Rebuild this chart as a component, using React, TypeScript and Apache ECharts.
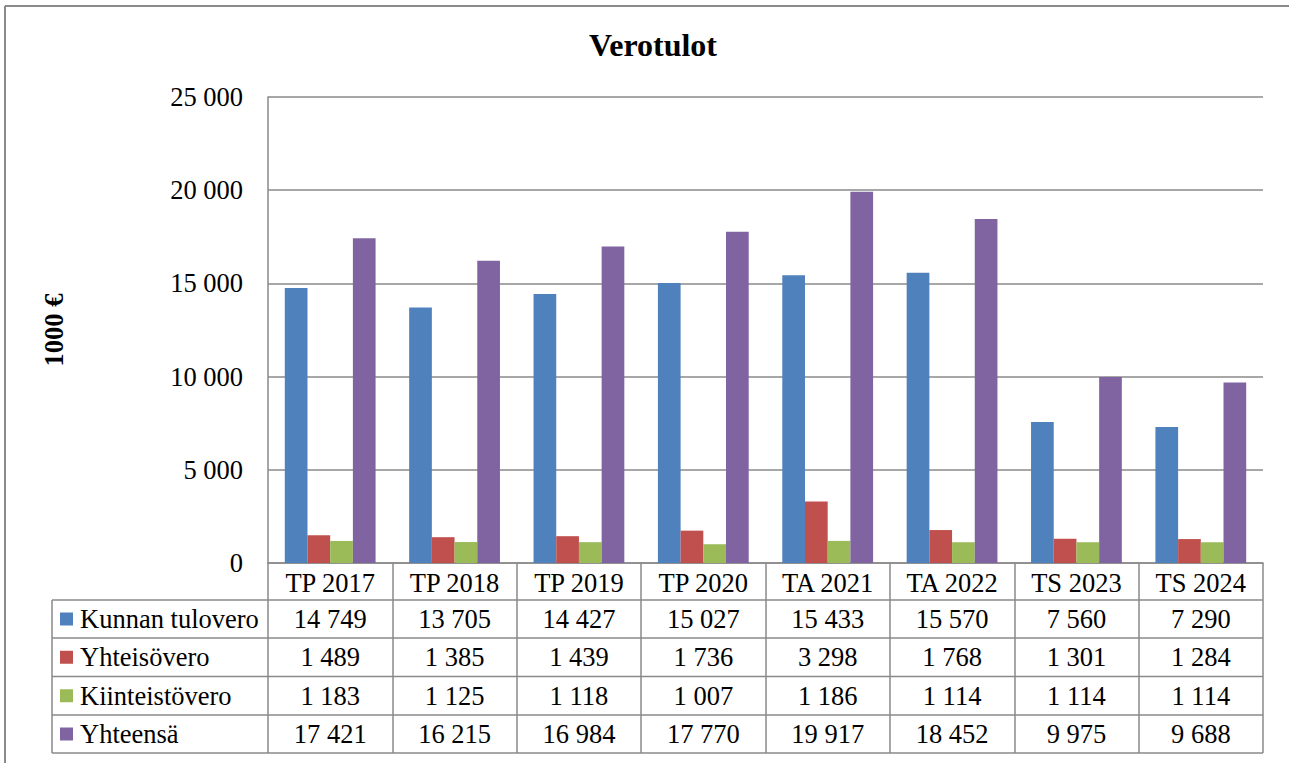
import React, { useEffect, useRef } from "react";
import * as echarts from "echarts";

const categories = ["TP 2017", "TP 2018", "TP 2019", "TP 2020", "TA 2021", "TA 2022", "TS 2023", "TS 2024"];
const seriesNames = ["Kunnan tulovero", "Yhteisövero", "Kiinteistövero", "Yhteensä"];
const kunnanTulovero = [14749, 13705, 14427, 15027, 15433, 15570, 7560, 7290];
const yhteisovero = [1489, 1385, 1439, 1736, 3298, 1768, 1301, 1284];
const kiinteistovero = [1183, 1125, 1118, 1007, 1186, 1114, 1114, 1114];
const yhteensa = [17421, 16215, 16984, 17770, 19917, 18452, 9975, 9688];
const yTicks = { min: 0, max: 25000, interval: 5000 };
const colors = ["#4F81BD", "#C0504D", "#9BBB59", "#8064A2"];

const FONT = "Liberation Serif";
const FS = 26.5;
const fmt = (n: number) => String(n).replace(/\B(?=(\d{3})+(?!\d))/g, " ");

export default function App() {
  const ref = useRef<HTMLDivElement>(null);
  useEffect(() => {
    if (!ref.current) return;
    const chart = echarts.init(ref.current, undefined, { renderer: "svg" });
    const W = 1289;
    const gridLeft = 268;
    const gridRight = 1263;
    const gridTop = 97;
    const gridBottom = 563;
    const tableLeft = 52;
    const rowLines = [600, 638, 676.5, 715, 753];
    const colW = (gridRight - gridLeft) / categories.length;
    const allSeries = [kunnanTulovero, yhteisovero, kiinteistovero, yhteensa];
    const lineColor = "#8a8a8a";

    const graphics: any[] = [];
    graphics.push({ type: "line", shape: { x1: 5, y1: 6, x2: W, y2: 6 }, style: { stroke: lineColor, lineWidth: 2 } });
    graphics.push({ type: "line", shape: { x1: 5, y1: 6, x2: 5, y2: 763 }, style: { stroke: lineColor, lineWidth: 2 } });
    rowLines.forEach((y) => {
      graphics.push({ type: "line", shape: { x1: tableLeft, y1: y, x2: gridRight, y2: y }, style: { stroke: lineColor, lineWidth: 1.5 } });
    });
    graphics.push({ type: "line", shape: { x1: tableLeft, y1: rowLines[0], x2: tableLeft, y2: rowLines[4] }, style: { stroke: lineColor, lineWidth: 1.5 } });
    allSeries.forEach((vals, r) => {
      const cy = (rowLines[r] + rowLines[r + 1]) / 2;
      graphics.push({ type: "rect", shape: { x: 60, y: cy - 6.5, width: 13, height: 13 }, style: { fill: colors[r] } });
      graphics.push({
        type: "text",
        x: 80,
        y: cy,
        style: { text: seriesNames[r], fontFamily: FONT, fontSize: FS, fill: "#000", align: "left", verticalAlign: "middle" },
      });
      vals.forEach((v, i) => {
        graphics.push({
          type: "text",
          x: gridLeft + (i + 0.5) * colW,
          y: cy,
          style: { text: fmt(v), fontFamily: FONT, fontSize: FS, fill: "#000", align: "center", verticalAlign: "middle" },
        });
      });
    });

    chart.setOption({
      animation: false,
      backgroundColor: "#fff",
      textStyle: { fontFamily: FONT },
      title: {
        text: "Verotulot",
        left: 648,
        textAlign: "center",
        top: 24,
        textStyle: { fontFamily: FONT, fontSize: 32, fontWeight: "bold", color: "#000" },
      },
      grid: { left: gridLeft, right: W - gridRight, top: gridTop, bottom: 763 - gridBottom, containLabel: false },
      xAxis: {
        type: "category",
        data: categories,
        axisLine: { show: true, lineStyle: { color: lineColor, width: 1.5 } },
        axisTick: { show: true, length: 190, interval: 0, lineStyle: { color: lineColor, width: 1.5 } },
        axisLabel: { show: true, interval: 0, margin: 6, fontFamily: FONT, fontSize: FS, color: "#000" },
      },
      yAxis: {
        type: "value",
        min: yTicks.min,
        max: yTicks.max,
        interval: yTicks.interval,
        name: "1000 €",
        nameLocation: "middle",
        nameRotate: 90,
        nameGap: 201,
        nameTextStyle: { fontFamily: FONT, fontSize: FS, fontWeight: "bold", color: "#000" },
        axisLine: { show: true, lineStyle: { color: lineColor, width: 1.5 } },
        axisTick: { show: false },
        splitLine: { show: true, lineStyle: { color: lineColor, width: 1.5 } },
        axisLabel: { margin: 25, fontFamily: FONT, fontSize: FS, color: "#000", formatter: (v: number) => fmt(v) },
      },
      series: allSeries.map((vals, i) => ({
        name: seriesNames[i],
        type: "bar",
        data: vals,
        barGap: "0%",
        barCategoryGap: "27%",
        itemStyle: { color: colors[i] },
      })),
      graphic: graphics,
    });
    return () => chart.dispose();
  }, []);
  return <div ref={ref} style={{ position: "fixed", left: 0, top: 0, width: 1289, height: 763 }} />;
}
